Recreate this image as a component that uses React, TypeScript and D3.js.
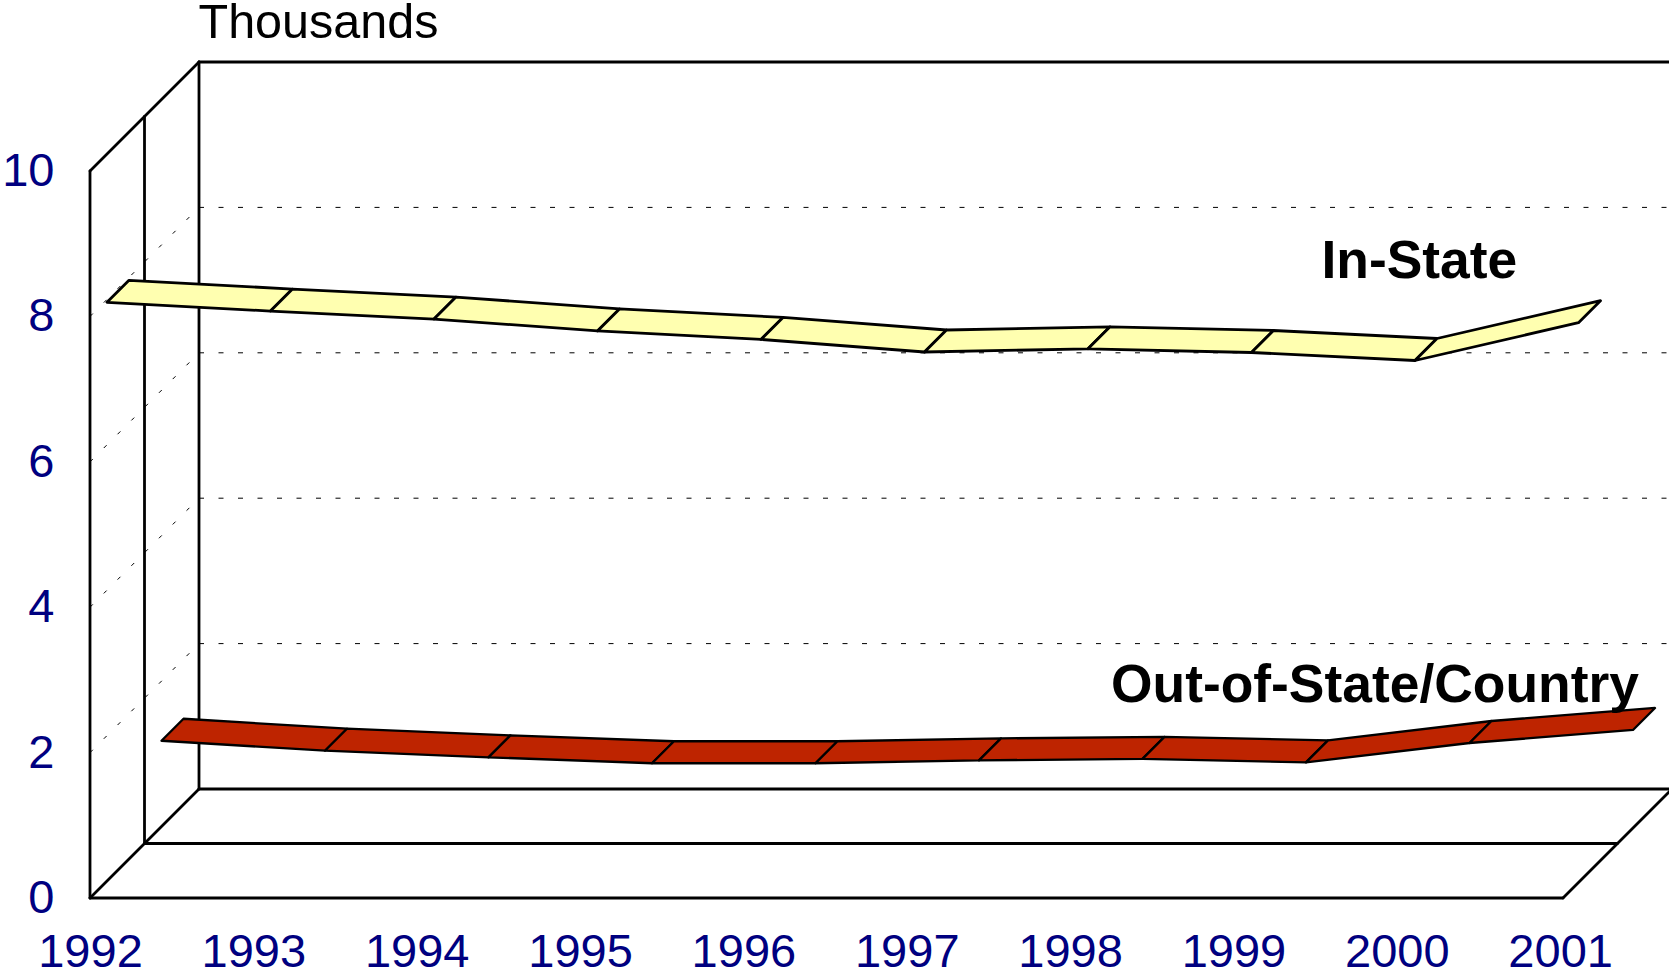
import React from "react";
import * as d3 from "d3";

const years = ["1992","1993","1994","1995","1996","1997","1998","1999","2000","2001"];
const inState = [7.97,7.85,7.74,7.576,7.46,7.287,7.33,7.28,7.17,7.69];
const outOfState = [1.19,1.053,0.962,0.88,0.88,0.92,0.94,0.893,1.159,1.338];
const valueTicks = [0,2,4,6,8,10];
const gridTicks = [2,4,6,8];

const WIDTH = 1669, HEIGHT = 979;
const FONT = "'Liberation Sans', Arial, sans-serif";
const NAVY = "#000080";
const X0 = 90, Y0 = 898, DEPTH = 109;
const RIGHT_FRONT = 1563;

const x = d3.scalePoint<string>().domain(years).range([90.75, 90.75 + 9 * 163.5]);
const xLabel = d3.scalePoint<string>().domain(years).range([90.5, 90.5 + 9 * 163.35]);
const y = d3.scaleLinear().domain([0, 10]).range([Y0, 171]);
const path = d3.line<[number, number]>().curve(d3.curveLinearClosed);

type Row = { values: number[]; fill: string; front: number; sw: number };
const rows: Row[] = [
  { values: inState, fill: "#FFFFB0", front: 16.25, sw: 2.8 },
  { values: outOfState, fill: "#BE2400", front: 70.75, sw: 2.3 },
];
const RIBBON = 22;

const pt = (i: number, v: number, d: number): [number, number] => [x(years[i])! + d, y(v) - d];

function Ribbon({ row }: { row: Row }) {
  return (
    <g>
      {row.values.slice(0, -1).map((v, i) => {
        const n = row.values[i + 1];
        const d = path([pt(i, v, row.front), pt(i + 1, n, row.front), pt(i + 1, n, row.front + RIBBON), pt(i, v, row.front + RIBBON)])!;
        return <path key={i} d={d} fill={row.fill} stroke="#000" strokeWidth={row.sw} strokeLinejoin="round" />;
      })}
    </g>
  );
}

export default function App() {
  const seg = (a: number, b: number, c: number, e: number, k: string) => (
    <line key={k} x1={a} y1={b} x2={c} y2={e} stroke="#000" strokeWidth={2.8} strokeLinecap="round" />
  );
  return (
    <svg width={WIDTH} height={HEIGHT} viewBox={`0 0 ${WIDTH} ${HEIGHT}`}
      style={{ position: "absolute", left: 0, top: 0, background: "#fff", display: "block" }}>
      {gridTicks.map(t => (
        <g key={t}>
          <line x1={X0} y1={y(t)} x2={X0 + DEPTH} y2={y(t) - DEPTH} stroke="#000" strokeWidth={1} strokeDasharray="4 15.5" />
          <line x1={X0 + DEPTH} y1={y(t) - DEPTH} x2={WIDTH} y2={y(t) - DEPTH} stroke="#000" strokeWidth={1} strokeDasharray="5 14.5" />
        </g>
      ))}
      {seg(X0, y(10), X0, y(0), "l1")}
      {seg(X0 + DEPTH / 2, y(10) - DEPTH / 2, X0 + DEPTH / 2, y(0) - DEPTH / 2, "l2")}
      {seg(X0 + DEPTH, y(10) - DEPTH, X0 + DEPTH, y(0) - DEPTH, "l3")}
      {seg(X0, y(10), X0 + DEPTH, y(10) - DEPTH, "d1")}
      {seg(X0, y(0), X0 + DEPTH, y(0) - DEPTH, "d2")}
      {seg(X0 + DEPTH, y(10) - DEPTH, WIDTH, y(10) - DEPTH, "t1")}
      {seg(X0, y(0), RIGHT_FRONT, y(0), "b1")}
      {seg(X0 + DEPTH / 2, y(0) - DEPTH / 2, RIGHT_FRONT + DEPTH / 2, y(0) - DEPTH / 2, "b2")}
      {seg(X0 + DEPTH, y(0) - DEPTH, WIDTH, y(0) - DEPTH, "b3")}
      {seg(RIGHT_FRONT, y(0), RIGHT_FRONT + DEPTH, y(0) - DEPTH, "d3")}

      {rows.map((r, i) => <Ribbon key={i} row={r} />)}

      <g fontFamily={FONT} fontSize={47} fill={NAVY}>
        {valueTicks.map(t => (
          <text key={t} x={54.5} y={y(t) + 15} textAnchor="end">{t}</text>
        ))}
        {years.map(yr => (
          <text key={yr} x={xLabel(yr)} y={966.5} textAnchor="middle">{yr}</text>
        ))}
      </g>
      <text x={198.5} y={38} fontFamily={FONT} fontSize={48.5} fill="#000">Thousands</text>
      <text x={1321.5} y={278} fontFamily={FONT} fontSize={53.4} fontWeight="bold" fill="#000">In-State</text>
      <text x={1111} y={701.5} fontFamily={FONT} fontSize={53.4} fontWeight="bold" fill="#000">Out-of-State/Country</text>
    </svg>
  );
}
